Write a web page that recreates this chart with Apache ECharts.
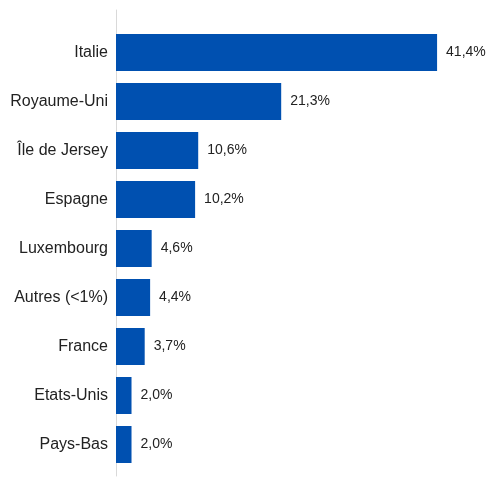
<!DOCTYPE html>
<html>
<head>
<meta charset="utf-8">
<script src="https://cdn.jsdelivr.net/npm/echarts@6/dist/echarts.min.js"></script>
<style>
  html, body { margin: 0; padding: 0; background: #ffffff; }
  #chart { width: 487px; height: 479px; }
</style>
</head>
<body>
<div id="chart"></div>
<script>
// Répartition par pays (%)
const countries = ['Italie', 'Royaume-Uni', 'Île de Jersey', 'Espagne', 'Luxembourg', 'Autres (<1%)', 'France', 'Etats-Unis', 'Pays-Bas'];
const shares = [41.4, 21.3, 10.6, 10.2, 4.6, 4.4, 3.7, 2.0, 2.0];

const barColor = '#0050b0';
const textColor = '#222222';
const font = 'Liberation Sans, Arial, sans-serif';

const chart = echarts.init(document.getElementById('chart'), null, { renderer: 'canvas' });

chart.setOption({
  animation: false,
  backgroundColor: '#ffffff',
  grid: [
    { left: 116, right: 22, top: 28, bottom: 10, containLabel: false },
    // Grille support de la ligne verticale de l'axe
    { left: 116, right: 22, top: 10, bottom: 3, containLabel: false }
  ],
  xAxis: [
    { gridIndex: 0, type: 'value', min: 0, max: 45, show: false },
    { gridIndex: 1, type: 'value', min: 0, max: 45, show: false }
  ],
  yAxis: [
    {
      gridIndex: 0,
      type: 'category',
      data: countries,
      inverse: true,
      axisLine: { show: false },
      axisTick: { show: false },
      axisLabel: {
        margin: 8,
        color: textColor,
        fontFamily: font,
        fontSize: 16
      }
    },
    {
      gridIndex: 1,
      type: 'category',
      data: [''],
      axisLine: { show: true, lineStyle: { color: '#d9d9d9', width: 1 } },
      axisTick: { show: false },
      axisLabel: { show: false }
    }
  ],
  series: [
    {
      type: 'bar',
      xAxisIndex: 0,
      yAxisIndex: 0,
      data: shares,
      barCategoryGap: '24.5%',
      itemStyle: { color: barColor },
      label: {
        show: true,
        position: 'right',
        distance: 9,
        color: textColor,
        fontFamily: font,
        fontSize: 14,
        formatter: p => p.value.toFixed(1).replace('.', ',') + '%'
      }
    }
  ]
});
</script>
</body>
</html>
